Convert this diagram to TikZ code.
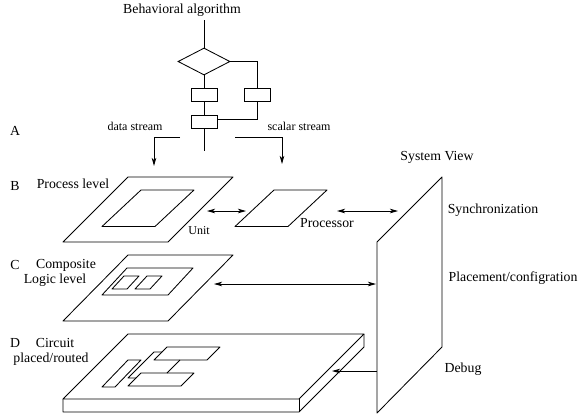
\documentclass[tikz,border=0pt]{standalone}
\usepackage{fontspec}
\setmainfont{Liberation Serif}
\usetikzlibrary{shapes,arrows,arrows.meta,positioning}
\tikzstyle{flowbox} = [rectangle, draw, line width=0.85pt, minimum width=26pt, minimum height=13pt, inner sep=0pt]
\tikzstyle{decision} = [diamond, draw, line width=0.85pt, minimum width=52pt, minimum height=27pt, inner sep=0pt]
\tikzstyle{textonly} = [draw=none, fill=none, inner sep=0pt, font=\fontsize{13.8}{15}\selectfont]
\tikzstyle{smalltext} = [textonly, font=\fontsize{12}{14}\selectfont]
\tikzstyle{wire}  = [draw, line width=0.85pt]
\tikzstyle{tedge}  = [draw, line width=0.85pt, >={Stealth[length=8pt,width=4.5pt,inset=2pt]}, ->]
\tikzstyle{dedge}  = [draw, line width=0.85pt, >={Stealth[length=8pt,width=4.5pt,inset=2pt]}, <->]
\tikzstyle{plate} = [draw, line width=0.85pt, line join=round]

\begin{document}
\begin{tikzpicture}[x=1pt, y=-1pt]
\useasboundingbox (0,0) rectangle (585,416);

% flow chart =============================
\node[textonly] (title) at (182,10) {Behavioral algorithm};
\coordinate (start) at (204,20);
\node[decision] (test) at (204,61.5) {};
\node[flowbox, below=13pt of test] (left) {};
\node[flowbox, below=13pt of left] (merge) {};
\node[flowbox] (right) at (257,94.5) {};
\coordinate (stop) at (204,151);
\coordinate (corner) at (257,119);

\path[wire] (start) -- (test.north);
\path[wire] (test.south) -- (left.north);
\path[wire] (left.south) -- (merge.north);
\path[wire] (merge.south) -- (stop);
\path[wire] (test.east) -| (right.north);
\path[wire] (right.south) -- (corner) -- (merge.east |- corner);

% streams
\coordinate (datafrom) at (180,137.5);
\coordinate (datato) at (154,166);
\coordinate (scalarfrom) at (235,137.5);
\coordinate (scalarto) at (282,164);
\path[tedge] (datafrom) -| (datato);
\path[tedge] (scalarfrom) -| (scalarto);

% plates
\path[plate] (128,177) -- (233,177) -- (168,242) -- (63,242) -- cycle;
\path[plate] (141,190) -- (194,190) -- (155,226.5) -- (102,226.5) -- cycle;
\path[plate] (274,190) -- (327,190) -- (288,226.5) -- (235,226.5) -- cycle;
\path[plate] (128,255) -- (233,255) -- (168,321) -- (63,321) -- cycle;
\path[plate] (127,268) -- (193,268) -- (168,295) -- (102,295) -- cycle;
\path[plate] (124,276) -- (139,276) -- (127,289) -- (112,289) -- cycle;
\path[plate] (147,276) -- (162,276) -- (150,289) -- (135,289) -- cycle;

% circuit slab
\path[plate] (128,334) -- (364,334) -- (299,399) -- (63,399) -- cycle;
\path[plate] (63,399) -- (63,412) -- (299,412) -- (364,347) -- (364,334);
\path[plate] (299,399) -- (299,412);
\path[plate] (128,360) -- (141,360) -- (115,387) -- (102,387) -- cycle;
\path[plate] (167,347) -- (220,347) -- (207,360) -- (154,360) -- cycle;
\path[plate] (141,373) -- (194,373) -- (181,386) -- (128,386) -- cycle;
\path[plate] (180,360) -- (167,373);
\path[plate] (162,352) -- (154,352) -- (128,378) -- (136,378);

% system view
\path[plate] (377,242) -- (442,177) -- (442,347) -- (377,413) -- cycle;

% edges
\coordinate (unitright) at (207,211);
\coordinate (procleft) at (246,211);
\coordinate (procright) at (337,211);
\coordinate (viewleft) at (398,211);
\coordinate (logicright) at (214,284);
\coordinate (viewmid) at (376,284);
\coordinate (viewlow) at (377,371);
\coordinate (slabedge) at (332,371);
\path[dedge] (unitright) -- (procleft);
\path[dedge] (procright) -- (viewleft);
\path[dedge] (logicright) -- (viewmid);
\path[tedge] (viewlow) -- (slabedge);

% labels
\node[textonly] (labela) at (15,131) {A};
\node[textonly] (labelb) at (15,186) {B};
\node[textonly] (labelc) at (15,265) {C};
\node[textonly] (labeld) at (15,343) {D};
\node[smalltext] (datalabel) at (135,126) {data stream};
\node[smalltext] (scalarlabel) at (299,126) {scalar stream};
\node[textonly] (process) at (73,184) {Process level};
\node[smalltext] (unit) at (199,231) {Unit};
\node[textonly] (processor) at (327,223) {Processor};
\node[textonly] (composite) at (66,265) {Composite};
\node[textonly] (logic) at (55,280) {Logic level};
\node[textonly] (circuit) at (55,343) {Circuit};
\node[textonly] (placed) at (51,359) {placed/routed};
\node[textonly] (sysview) at (437,157) {System View};
\node[textonly] (sync) at (493,210) {Synchronization};
\node[textonly] (config) at (513,278) {Placement/configration};
\node[textonly] (debug) at (463,369) {Debug};

\end{tikzpicture}
\end{document}
